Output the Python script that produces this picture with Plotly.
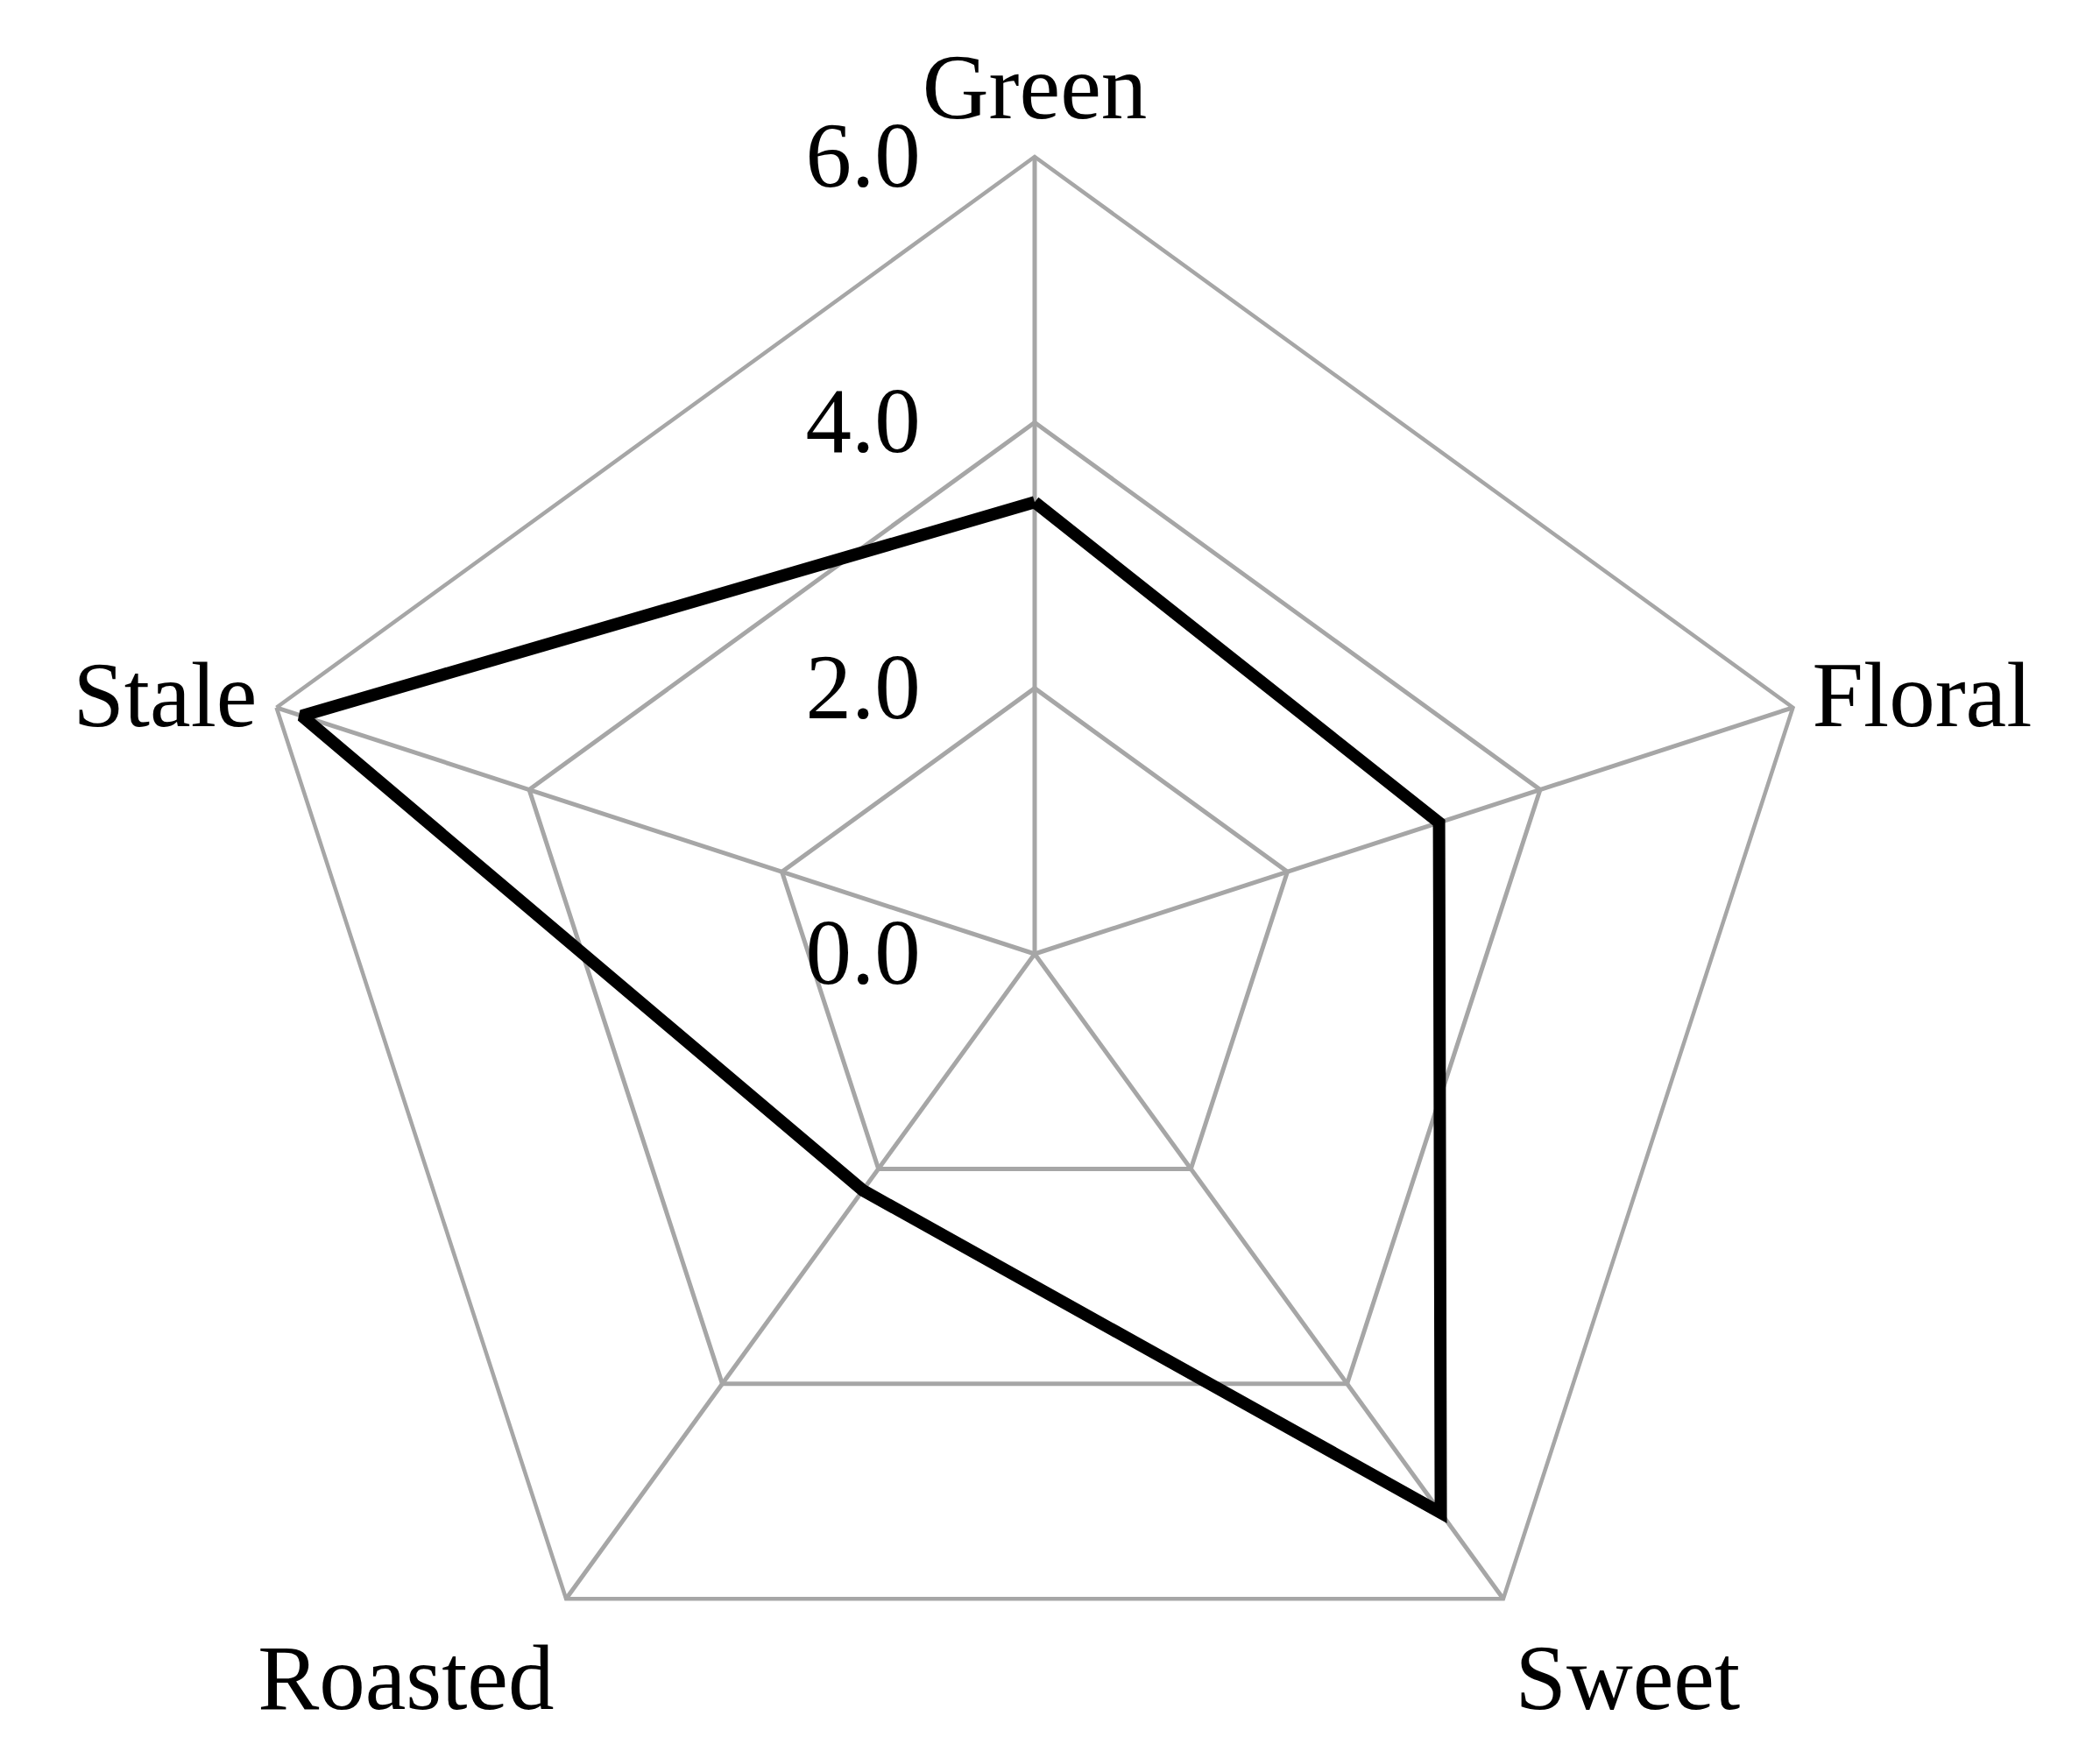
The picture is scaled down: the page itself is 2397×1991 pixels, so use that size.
import plotly.graph_objects as go

# Sensory attributes and their mean scores
attributes = ["Green", "Floral", "Sweet", "Roasted", "Stale"]
scores = [3.4, 3.2, 5.2, 2.2, 5.8]

tick_vals = [0, 2, 4, 6]
tick_text = ["0.0", "2.0", "4.0", "6.0"]

GRID = "#A6A6A6"
FONT = "Liberation Serif"

fig = go.Figure()

# close the polygon by repeating the first point
fig.add_trace(
    go.Scatterpolar(
        r=scores + scores[:1],
        theta=attributes + attributes[:1],
        mode="lines",
        line=dict(color="black", width=14),
        showlegend=False,
    )
)

fig.update_layout(
    width=2397,
    height=1991,
    paper_bgcolor="white",
    plot_bgcolor="white",
    margin=dict(l=263, r=314, t=171, b=0),
    font=dict(family=FONT, size=105, color="black"),
    polar=dict(
        bgcolor="white",
        gridshape="linear",
        radialaxis=dict(
            range=[0, 6],
            tickvals=tick_vals,
            ticktext=tick_text,
            angle=90,
            side="counterclockwise",
            tickangle=90,
            showline=False,
            # invisible ticks just push the labels away from the spoke
            ticks="outside",
            ticklen=93,
            tickcolor="rgba(0,0,0,0)",
            gridcolor=GRID,
            gridwidth=4.5,
            tickfont=dict(family=FONT, size=105, color="black"),
        ),
        angularaxis=dict(
            rotation=90,
            direction="clockwise",
            showline=True,
            linecolor=GRID,
            linewidth=4.5,
            gridcolor=GRID,
            gridwidth=4.5,
            ticks="",
            tickfont=dict(family=FONT, size=105, color="black"),
        ),
    ),
)

fig.write_html("out.html")
